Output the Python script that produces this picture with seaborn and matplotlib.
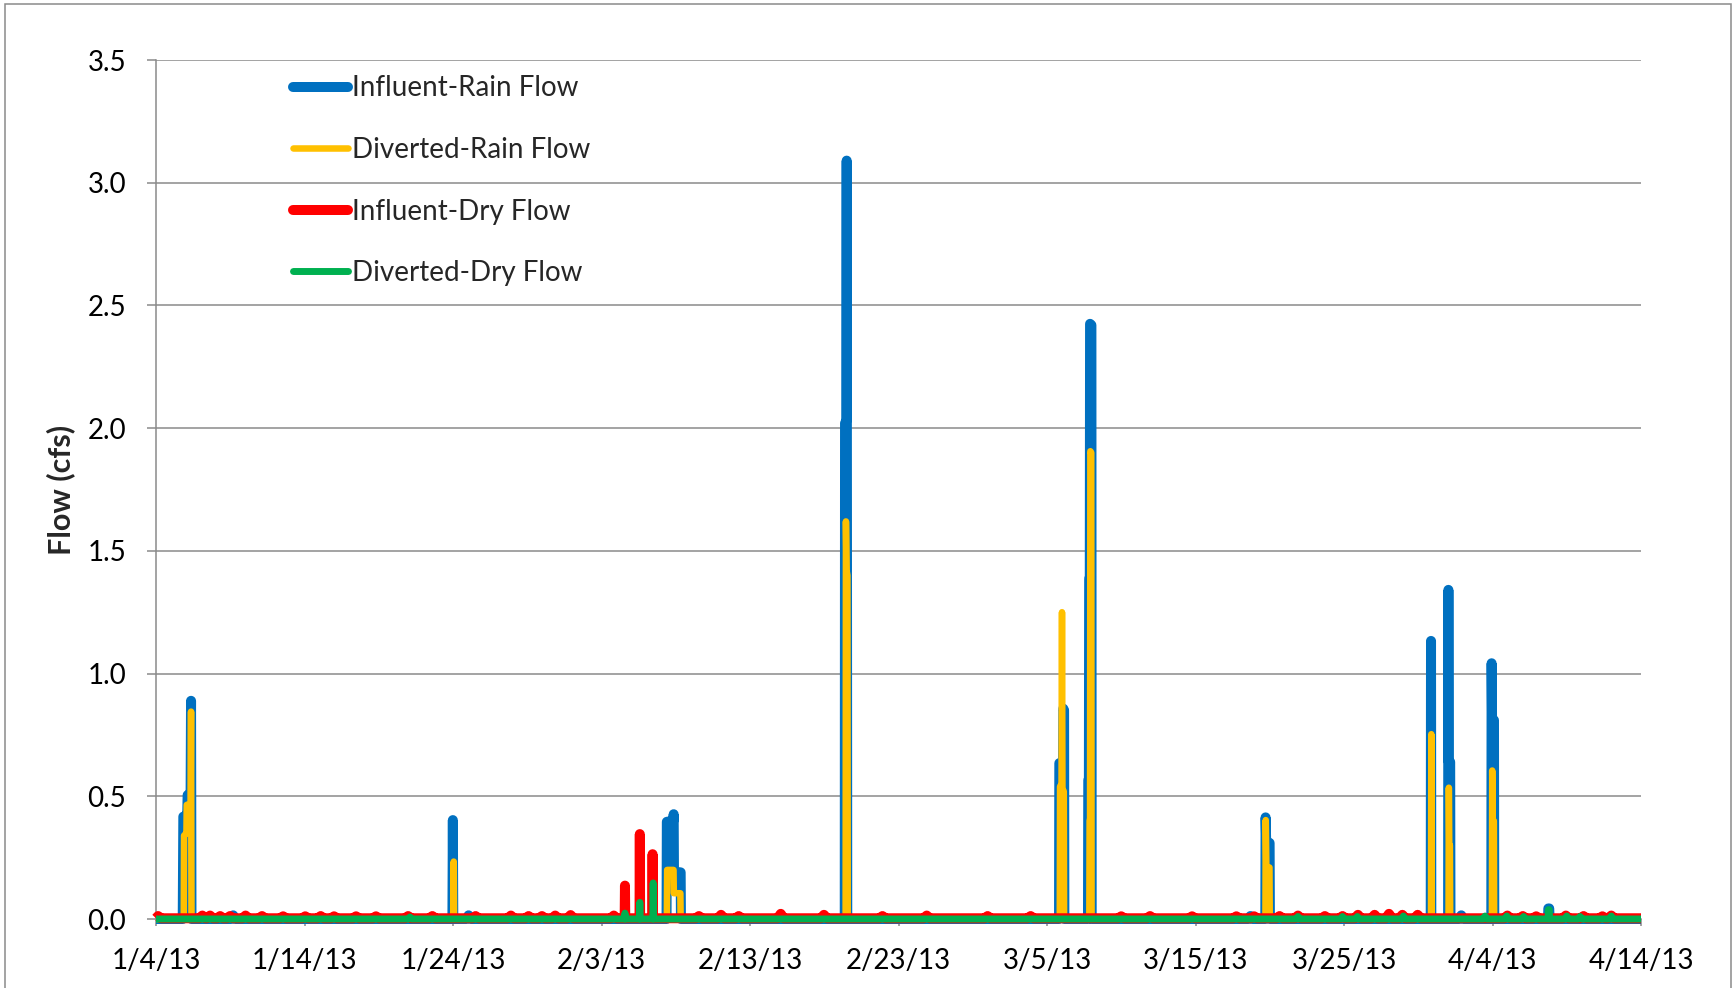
import matplotlib
matplotlib.use("Agg")
import matplotlib.pyplot as plt
import seaborn as sns
import pandas as pd
from matplotlib.patches import Rectangle

# Flow record, 1/4/2013 - 4/14/2013; times are days since the start date
START = pd.Timestamp("2013-01-04")

# Influent flow during rain events (cfs)
rain_in_day = [0, 1.80, 1.84, 2.10, 2.13, 2.33, 2.36, 2.39, 5.05, 5.2, 5.35,
               19.96, 19.99, 20.02, 20.9, 21.05, 21.2,
               34.38, 34.40, 34.84, 34.86, 34.88, 35.33, 35.35,
               46.38, 46.40, 46.49, 46.51, 46.55,
               60.81, 60.83, 61.08, 61.10, 61.15, 61.17,
               62.76, 62.78, 62.82, 62.84, 62.88, 62.90, 62.99, 63.01,
               73.55, 73.7, 73.85, 74.70, 74.72, 74.76, 74.99, 75.01,
               85.84, 85.86, 85.88, 87.01, 87.03, 87.05, 87.15, 87.17,
               87.75, 87.9, 88.05, 89.92, 89.94, 89.97, 90.10, 90.12,
               93.74, 93.76, 93.82, 93.84, 100]
rain_in_cfs = [0, 0, 0.417, 0.42, 0.505, 0.51, 0.889, 0, 0, 0.015, 0,
               0, 0.403, 0, 0, 0.015, 0,
               0, 0.396, 0.40, 0.427, 0.193, 0.19, 0,
               0, 2.02, 2.03, 3.09, 0,
               0, 0.635, 0.64, 0.857, 0.85, 0,
               0, 0.565, 0.57, 1.386, 1.39, 2.425, 2.42, 0,
               0, 0.012, 0, 0, 0.414, 0.315, 0.31, 0,
               0, 1.133, 0, 0, 1.341, 0.64, 0.64, 0,
               0, 0.015, 0, 0, 1.042, 0.818, 0.81, 0,
               0, 0.043, 0.043, 0, 0]

# Diverted flow during rain events (cfs)
rain_div_day = [0, 1.87, 1.89, 2.05, 2.07, 2.33, 2.36, 2.39,
                20.03, 20.05, 20.07,
                34.40, 34.42, 34.85, 34.87, 35.31, 35.33,
                46.44, 46.46, 46.50, 46.56, 46.58,
                60.86, 60.88, 60.98, 61.01, 61.04, 61.13, 61.15,
                62.85, 62.87, 62.90, 62.92, 62.98, 63.00,
                74.71, 74.73, 74.77, 74.98, 75.00,
                85.86, 85.88, 85.90, 87.04, 87.06, 87.09, 87.13, 87.15,
                87.8, 87.9, 88.0, 89.96, 89.98, 90.01, 90.09, 90.11, 100]
rain_div_cfs = [0, 0, 0.34, 0.35, 0.465, 0.47, 0.845, 0,
                0, 0.234, 0,
                0, 0.2, 0.2, 0.105, 0.105, 0,
                0, 1.62, 1.42, 1.40, 0,
                0, 0.54, 0.55, 1.25, 0.53, 0.52, 0,
                0, 0.40, 0.41, 1.906, 1.90, 0,
                0, 0.403, 0.213, 0.21, 0,
                0, 0.753, 0, 0, 0.535, 0.30, 0.30, 0,
                0, 0.008, 0, 0, 0.605, 0.40, 0.40, 0, 0]

# Influent flow in dry weather (cfs)
dry_in_day = [0, 0.14, 0.34, 2.92, 3.12, 3.32, 3.44, 3.64, 3.84, 4.12, 4.32, 4.52,
              4.78, 4.98, 5.18, 5.83, 6.03, 6.23, 6.94, 7.14, 7.34, 8.36, 8.56, 8.76,
              9.85, 10.05, 10.25, 10.89, 11.09, 11.29, 11.79, 11.99, 12.19,
              13.27, 13.47, 13.67, 14.61, 14.81, 15.01, 16.78, 16.98, 17.18,
              18.41, 18.61, 18.81, 21.32, 21.52, 21.72, 23.7, 23.9, 24.1,
              24.89, 25.09, 25.29, 25.79, 25.99, 26.19, 26.68, 26.88, 27.08,
              27.72, 27.92, 28.12, 30.63, 30.83, 31.03,
              31.56, 31.58, 31.60, 32.56, 32.58, 32.60, 33.42, 33.44, 33.46,
              36.36, 36.56, 36.76, 37.85, 38.05, 38.25, 39.04, 39.24, 39.44,
              41.87, 42.07, 42.27, 44.78, 44.98, 45.18, 48.72, 48.92, 49.12,
              51.7, 51.9, 52.1, 55.8, 56.0, 56.2, 58.7, 58.9, 59.1,
              64.8, 65.0, 65.2, 66.74, 66.94, 67.14, 69.57, 69.77, 69.97,
              72.55, 72.75, 72.95, 73.75, 73.95, 74.15, 75.46, 75.66, 75.86,
              76.7, 76.9, 77.1, 78.51, 78.71, 78.91, 79.7, 79.9, 80.1,
              80.74, 80.94, 81.14, 81.86, 82.06, 82.26, 82.83, 83.03, 83.23,
              83.73, 83.93, 84.13, 84.76, 84.96, 85.16, 90.8, 91.0, 91.2,
              91.84, 92.04, 92.24, 92.74, 92.94, 93.14, 94.74, 94.94, 95.14,
              95.93, 96.13, 96.33, 97.2, 97.4, 97.6, 97.8, 98.0, 98.2, 100]
dry_in_cfs = [0.003, 0.012, 0.003, 0.003, 0.014, 0.003, 0.003, 0.014, 0.003, 0.003, 0.012, 0.003,
              0.003, 0.012, 0.003, 0.003, 0.014, 0.003, 0.003, 0.012, 0.003, 0.003, 0.011, 0.003,
              0.003, 0.011, 0.003, 0.003, 0.012, 0.003, 0.003, 0.011, 0.003,
              0.003, 0.011, 0.003, 0.003, 0.011, 0.003, 0.003, 0.012, 0.003,
              0.003, 0.012, 0.003, 0.003, 0.012, 0.003, 0.003, 0.014, 0.003,
              0.003, 0.012, 0.003, 0.003, 0.012, 0.003, 0.003, 0.014, 0.003,
              0.003, 0.016, 0.003, 0.003, 0.014, 0.003,
              0.003, 0.136, 0.003, 0.003, 0.346, 0.003, 0.003, 0.264, 0.003,
              0.003, 0.012, 0.003, 0.003, 0.017, 0.003, 0.003, 0.012, 0.003,
              0.003, 0.021, 0.003, 0.003, 0.017, 0.003, 0.003, 0.012, 0.003,
              0.003, 0.014, 0.003, 0.003, 0.012, 0.003, 0.003, 0.012, 0.003,
              0.003, 0.011, 0.003, 0.003, 0.012, 0.003, 0.003, 0.011, 0.003,
              0.003, 0.011, 0.003, 0.003, 0.011, 0.003, 0.003, 0.012, 0.003,
              0.003, 0.014, 0.003, 0.003, 0.012, 0.003, 0.003, 0.012, 0.003,
              0.003, 0.017, 0.003, 0.003, 0.017, 0.003, 0.003, 0.021, 0.003,
              0.003, 0.017, 0.003, 0.003, 0.017, 0.003, 0.003, 0.014, 0.003,
              0.003, 0.012, 0.003, 0.003, 0.011, 0.003, 0.003, 0.014, 0.003,
              0.003, 0.012, 0.003, 0.003, 0.011, 0.003, 0.003, 0.014, 0.003, 0.003]

# Diverted flow in dry weather (cfs)
dry_div_day = [0, 17.0, 17.1, 17.2,
               31.56, 31.58, 31.60, 32.56, 32.58, 32.60, 33.46, 33.48, 33.50,
               76.8, 76.9, 77.0, 79.8, 79.9, 80.0, 80.8, 80.9, 81.0,
               83.9, 84.0, 84.1, 89.4, 89.5, 89.6, 90.86, 90.96, 91.06,
               92.0, 92.1, 92.2, 93.74, 93.76, 93.82, 93.84,
               94.9, 95.0, 95.1, 95.8, 95.9, 96.0, 97.9, 98.0, 98.1, 100]
dry_div_cfs = [0, 0, 0.008, 0,
               0, 0.024, 0, 0, 0.068, 0, 0, 0.147, 0,
               0, 0.01, 0, 0, 0.01, 0, 0, 0.01, 0,
               0, 0.012, 0, 0, 0.012, 0, 0, 0.012, 0,
               0, 0.01, 0, 0, 0.038, 0.038, 0,
               0, 0.012, 0, 0, 0.01, 0, 0, 0.012, 0, 0]

tick_dates = ["2013-01-04", "2013-01-14", "2013-01-24", "2013-02-03", "2013-02-13",
              "2013-02-23", "2013-03-05", "2013-03-15", "2013-03-25", "2013-04-04",
              "2013-04-14"]
tick_labels = ["1/4/13", "1/14/13", "1/24/13", "2/3/13", "2/13/13", "2/23/13",
               "3/5/13", "3/15/13", "3/25/13", "4/4/13", "4/14/13"]
y_ticks = [0.0, 0.5, 1.0, 1.5, 2.0, 2.5, 3.0, 3.5]
y_tick_labels = ["0.0", "0.5", "1.0", "1.5", "2.0", "2.5", "3.0", "3.5"]

sns.set_theme(style="white")
plt.rcParams["font.family"] = ["Lato", "DejaVu Sans"]

GRAY = "#8a8a8a"
fig = plt.figure(figsize=(17.34, 9.88), dpi=100)
ax = fig.add_axes([156 / 1734, 69 / 988, 1485 / 1734, 859 / 988])

series = [
    ("Influent-Rain Flow", rain_in_day, rain_in_cfs, "#0070C0", 7.2),
    ("Diverted-Rain Flow", rain_div_day, rain_div_cfs, "#FFC000", 4.7),
    ("Influent-Dry Flow", dry_in_day, dry_in_cfs, "#FF0000", 7.2),
    ("Diverted-Dry Flow", dry_div_day, dry_div_cfs, "#00B050", 5.0),
]
for i, (name, days, cfs, color, lw) in enumerate(series):
    df = pd.DataFrame({"time": START + pd.to_timedelta(days, unit="D"), "flow": cfs})
    sns.lineplot(data=df, x="time", y="flow", ax=ax, color=color, linewidth=lw,
                 label=name, estimator=None, sort=False, zorder=3 + i,
                 solid_capstyle="butt", solid_joinstyle="round", clip_on=False)

ax.set_xlim(START, START + pd.Timedelta(days=100))
ax.set_ylim(0, 3.5)
ax.set_xticks(pd.to_datetime(tick_dates))
ax.set_xticklabels(tick_labels)
ax.set_yticks(y_ticks)
ax.set_yticklabels(y_tick_labels)
ax.set_xlabel("")
ax.set_ylabel("Flow (cfs)")
ax.yaxis.label.set_fontsize(22)
ax.yaxis.label.set_fontweight("bold")
ax.yaxis.label.set_va("center")
ax.yaxis.set_label_coords(-0.064, 0.5)

ax.yaxis.grid(True, color=GRAY, linewidth=1.1)
ax.set_axisbelow(True)
for side in ("top", "right"):
    ax.spines[side].set_visible(False)
for side in ("left", "bottom"):
    ax.spines[side].set_color(GRAY)
    ax.spines[side].set_linewidth(1.1)
ax.tick_params(axis="y", which="major", left=True, length=6.5, width=1.1, color=GRAY,
               direction="out", pad=15, labelsize=20, labelcolor="black")
ax.tick_params(axis="x", which="major", bottom=True, length=5, width=1.1, color=GRAY,
               direction="out", pad=16, labelsize=20, labelcolor="black")

leg = ax.legend(loc="upper left", bbox_to_anchor=(0.0923, 0.982), frameon=False,
                fontsize=20, handlelength=1.98, handletextpad=0.15, labelspacing=1.28,
                borderpad=0, borderaxespad=0)
for h in leg.get_lines():
    h.set_solid_capstyle("round")

fig.patches.append(Rectangle((0.003, -0.05), 0.995, 1.046, transform=fig.transFigure,
                             fill=False, edgecolor=GRAY, linewidth=1.1))

fig.savefig("out.png", dpi=100)
